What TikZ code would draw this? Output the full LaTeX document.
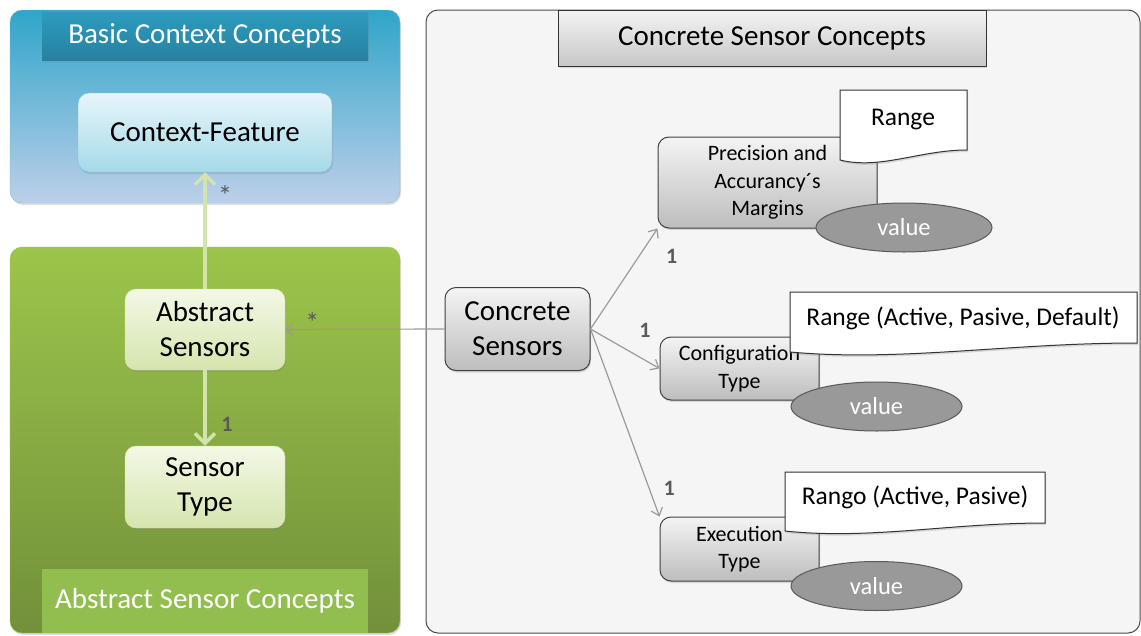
\documentclass[tikz,border=0pt]{standalone}
\usepackage{fontspec}
\setmainfont{Carlito}
\usetikzlibrary{arrows.meta,shadows,shapes.geometric}

\definecolor{bluetop}{HTML}{2FA5C9}
\definecolor{bluemid}{HTML}{6DB6D5}
\definecolor{bluebot}{HTML}{BDCFEA}
\definecolor{bluebartop}{HTML}{2D9BBE}
\definecolor{bluebarbot}{HTML}{27819F}
\definecolor{blueline}{HTML}{7DBFDA}
\definecolor{cyantop}{HTML}{E7F5FA}
\definecolor{cyanbot}{HTML}{A5DAE8}
\definecolor{cyanline}{HTML}{79C1D8}
\definecolor{greentop}{HTML}{9CC54B}
\definecolor{greenbot}{HTML}{72903A}
\definecolor{greenbar}{HTML}{92BE4F}
\definecolor{limetop}{HTML}{F3F8E6}
\definecolor{limebot}{HTML}{D5E5AE}
\definecolor{limeline}{HTML}{D3E3AE}
\definecolor{panelgray}{HTML}{F5F5F5}
\definecolor{greytop}{HTML}{F4F4F4}
\definecolor{greybot}{HTML}{BDBDBD}
\definecolor{valuegray}{HTML}{999999}
\definecolor{linkgray}{HTML}{9A9A9A}
\definecolor{labelgray}{HTML}{5A5A5A}

\begin{document}
\begin{tikzpicture}[x=1pt,y=-1pt]
        \tikzstyle{panel}=[rounded corners=12pt]
        \tikzstyle{softshadow}=[drop shadow={opacity=0.25,shadow xshift=1pt,shadow yshift=-2pt}]
        \tikzstyle{bar}=[rectangle,inner sep=0pt,text=white,font=\fontsize{29}{34}\selectfont]
        \tikzstyle{concept}=[rectangle,rounded corners=11pt,align=center,inner sep=0pt,font=\fontsize{29}{35}\selectfont,softshadow]
        \tikzstyle{blueconcept}=[concept,draw=cyanline,top color=cyantop,bottom color=cyanbot]
        \tikzstyle{limeconcept}=[concept,draw=limeline,top color=limetop,bottom color=limebot,minimum width=160pt]
        \tikzstyle{greyconcept}=[concept,draw=black!75,line width=1pt,top color=greytop,bottom color=greybot]
        \tikzstyle{smallconcept}=[greyconcept,font=\fontsize{22}{27.5}\selectfont]
        \tikzstyle{valueoval}=[ellipse,draw=black!65,line width=1pt,fill=valuegray,text=white,inner sep=0pt,font=\fontsize{24.5}{28}\selectfont]
        \tikzstyle{docshape}=[draw=black!80,line width=1pt,fill=white,softshadow]
        \tikzstyle{doctext}=[inner sep=0pt,font=\fontsize{25.5}{30}\selectfont]
        \tikzstyle{greenlink}=[draw=limeline,line width=3.5pt,-{Straight Barb[length=10pt,width=20pt]}]
        \tikzstyle{greylink}=[draw=linkgray,line width=1.2pt,-{Straight Barb[length=7pt,width=12pt]}]
        \tikzstyle{mult}=[text=labelgray,inner sep=0pt,font=\fontsize{22}{24}\selectfont\bfseries]
        \tikzstyle{many}=[text=labelgray,inner sep=0pt,font=\fontsize{28}{30}\selectfont]

        \useasboundingbox (0,0) rectangle (1141,635);
        \fill[white] (0,0) rectangle (1141,635);

        % panels
        \draw[panel,draw=blueline,top color=bluetop,middle color=bluemid,bottom color=bluebot,softshadow] (10,10) rectangle (400,203);
        \draw[panel,draw=greentop,top color=greentop,bottom color=greenbot,softshadow] (10,247) rectangle (400,633);
        \draw[panel,draw=black!70,line width=1pt,fill=panelgray] (426,10) rectangle (1140,633);

        % headers
        \node[bar,top color=bluebartop,bottom color=bluebarbot,minimum width=326pt,minimum height=48pt,softshadow] (basichead) at (205,36) {Basic Context Concepts};
        \node[bar,fill=greenbar,minimum width=326pt,minimum height=64pt] (abstracthead) at (205,601) {Abstract Sensor Concepts};
        \node[bar,draw=black!80,line width=1pt,top color=greytop,bottom color=black!22,text=black,minimum width=428pt,minimum height=56pt,softshadow] (concretehead) at (772,38) {Concrete Sensor Concepts};

        % basic and abstract concepts
        \node[blueconcept,minimum width=254pt,minimum height=79pt] (feature) at (205,132.5) {Context-Feature};
        \node[limeconcept,minimum height=81pt] (abstract) at (205,329.5) {Abstract\\Sensors};
        \node[limeconcept,minimum height=82pt] (sensortype) at (205,487) {Sensor\\Type};

        % concrete concepts
        \node[greyconcept,minimum width=145pt,minimum height=83pt] (concrete) at (517.5,329) {Concrete\\Sensors};

        \node[smallconcept,minimum width=219pt,minimum height=91pt] (precision) at (767.5,182.5) {Precision and\\Accurancy´s\\Margins};
        \filldraw[docshape] (840,90) -- (967,90) -- (967,150) .. controls (920,150) and (880,170) .. (840,160) -- cycle;
        \node[doctext] (precrange) at (903,120) {Range};
        \node[valueoval,minimum width=176pt,minimum height=49pt] (precvalue) at (904,227.5) {value};

        \node[smallconcept,minimum width=159pt,minimum height=63pt] (configuration) at (739.5,368.5) {Configuration\\Type};
        \filldraw[docshape] (790,292) -- (1137,292) -- (1137,343) .. controls (1009,343) and (900,362) .. (790,352) -- cycle;
        \node[doctext] (confrange) at (963,318) {Range (Active, Pasive, Default)};
        \node[valueoval,minimum width=171pt,minimum height=49pt] (confvalue) at (876.5,406.5) {value};

        \node[smallconcept,minimum width=159pt,minimum height=64pt] (execution) at (739.5,549) {Execution\\Type};
        \filldraw[docshape] (785,472) -- (1045,472) -- (1045,523) .. controls (950,523) and (870,540) .. (785,531) -- cycle;
        \node[doctext] (execrange) at (915,497) {Rango (Active, Pasive)};
        \node[valueoval,minimum width=171pt,minimum height=49pt] (execvalue) at (876.5,586) {value};

        % associations
        \path (abstract)  edge [greenlink] node [many,pos=0.85,xshift=20pt,yshift=-6pt] {*} (feature)
                          edge [greenlink] node [mult,pos=0.71,xshift=22pt]             {1} (sensortype);
        \path (concrete.west) edge [greylink] node [many,pos=0.83,yshift=7pt] {*} (abstract.east);
        \path (concrete.east) edge [greylink] node [mult,pos=0.72,xshift=33pt]  {1} (precision.south west)
                              edge [greylink] node [mult,pos=0.79,yshift=30pt]  {1} (configuration.west)
                              edge [greylink] node [mult,pos=0.85,xshift=20pt]  {1} (execution.north west);
\end{tikzpicture}
\end{document}
